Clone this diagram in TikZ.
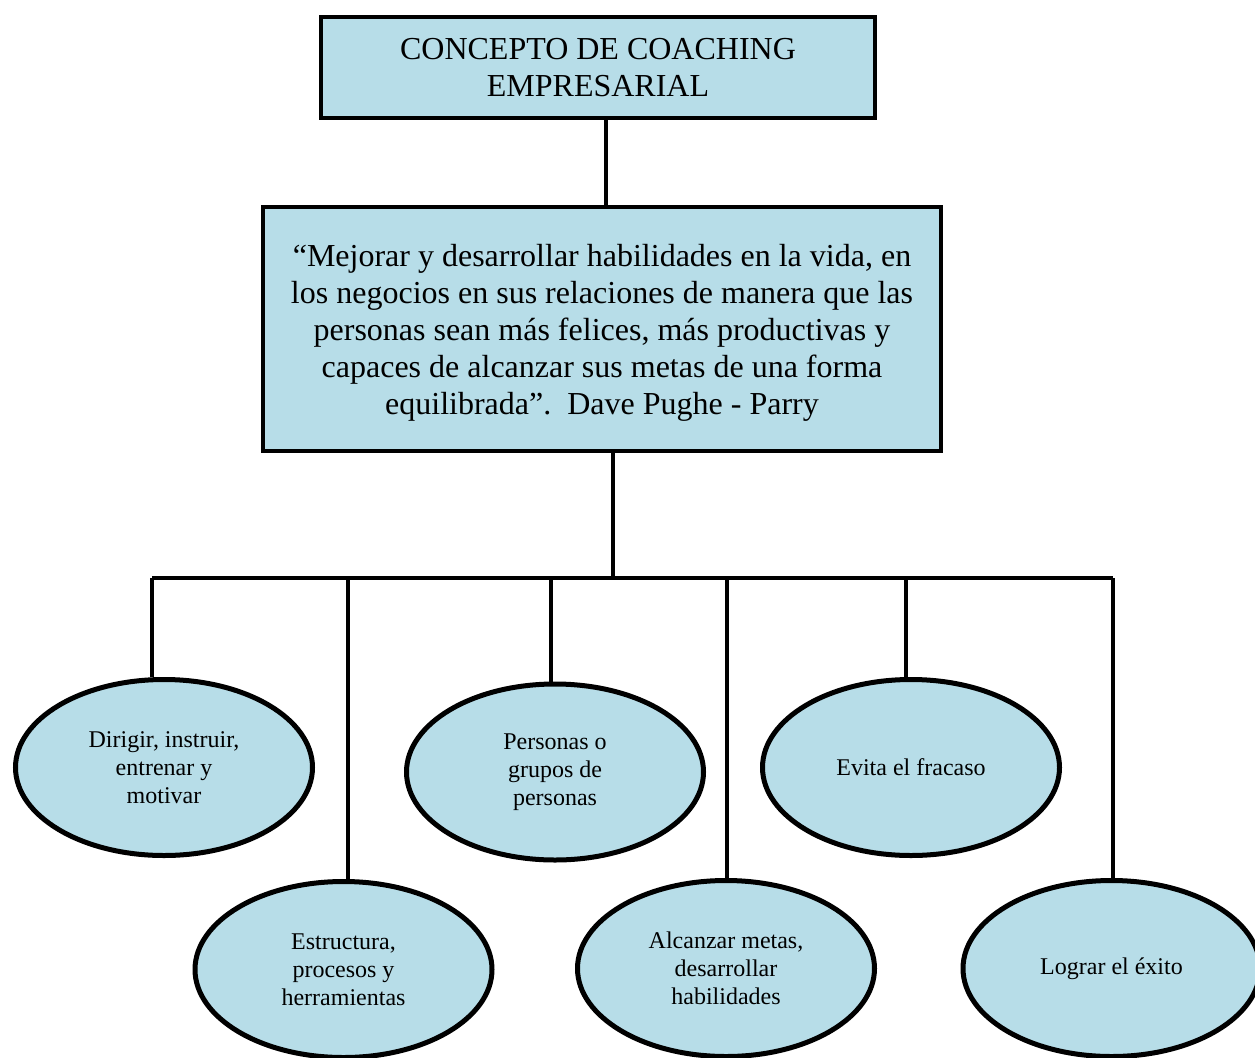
\documentclass[tikz,border=0pt]{standalone}
\usepackage{fontspec}
\setmainfont{Liberation Serif}
\usetikzlibrary{shapes.geometric}
\definecolor{boxblue}{RGB}{183,221,232}
\begin{document}
\begin{tikzpicture}[x=1pt,y=-1pt,
  headbox/.style={draw=black,line width=4.2pt,fill=boxblue,rectangle,
    inner sep=0pt,align=center,font=\fontsize{32}{37}\selectfont},
  headtext/.style={inner sep=0pt,align=center,font=\fontsize{32}{37}\selectfont},
  leaf/.style={draw=black,line width=5pt,fill=boxblue,ellipse,
    minimum width=297pt,minimum height=176pt,inner sep=0pt,align=center,
    font=\fontsize{24}{28}\selectfont},
  link/.style={draw=black,line width=3.2pt}]
\useasboundingbox (0,0) rectangle (1255,1057);

% title and definition
\node[headbox,minimum width=554pt,minimum height=101pt] (title) at (598,67.5)
  {CONCEPTO DE COACHING\\EMPRESARIAL};
\node[headbox,minimum width=678pt,minimum height=244pt] (quote) at (602,329) {};
\node[headtext] (quotetext) at ([yshift=-3.5pt]quote.center)
  {“Mejorar y desarrollar habilidades en la vida, en\\
   los negocios en sus relaciones de manera que las\\
   personas sean más felices, más productivas y\\
   capaces de alcanzar sus metas de una forma\\
   equilibrada”.\ \ Dave Pughe - Parry};

% leaves
\node[leaf] (e1) at (164,767.5) {Dirigir, instruir,\\entrenar y\\motivar};
\node[leaf] (e2) at (343.5,969.5) {Estructura,\\procesos y\\herramientas};
\node[leaf] (e3) at (555,772) {Personas o\\grupos de\\personas};
\node[leaf] (e4) at (726,968.5) {Alcanzar metas,\\desarrollar\\habilidades};
\node[leaf] (e5) at (911,767.5) {Evita el fracaso};
\node[leaf] (e6) at (1111.5,968.5) {Lograr el éxito};

% junction points
\coordinate (tq) at (606,0);
\coordinate (jq) at (613,578);
\coordinate (j1) at (152,578);
\coordinate (j2) at (348,578);
\coordinate (j3) at (551,578);
\coordinate (j4) at (727,578);
\coordinate (j5) at (906,578);
\coordinate (j6) at (1113,578);

% connectors
\draw[link] (title.south -| tq) -- (quote.north -| tq);
\draw[link] (quote.south -| jq) -- (jq);
\draw[link] (j1) -- (j6);
\draw[link] (j1) -- (j1 |- e1.north);
\draw[link] (j2) -- (j2 |- e2.north);
\draw[link] (j3) -- (j3 |- e3.north);
\draw[link] (j4) -- (j4 |- e4.north);
\draw[link] (j5) -- (j5 |- e5.north);
\draw[link] (j6) -- (j6 |- e6.north);
\end{tikzpicture}
\end{document}
